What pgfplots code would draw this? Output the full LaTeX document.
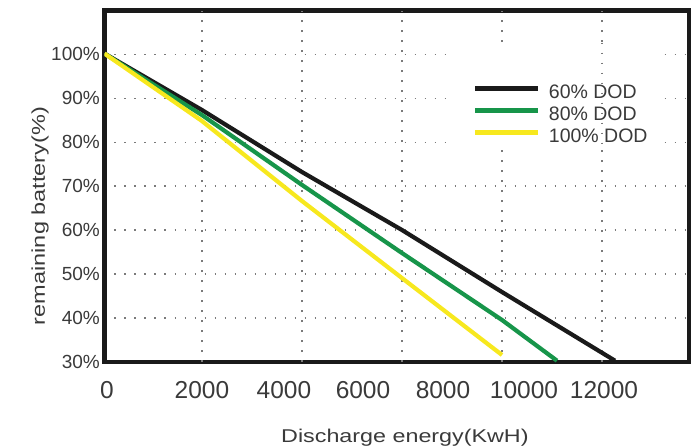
\documentclass[border=0pt]{standalone}
\usepackage{pgfplots}
\pgfplotsset{compat=1.18}
\usepackage{fontspec}
\setmainfont{Liberation Sans}
\definecolor{txt}{HTML}{3A3A3A}
\definecolor{cgreen}{HTML}{17954A}
\definecolor{cyellow}{HTML}{F7E81E}
\definecolor{cblack}{HTML}{1A1A1A}
\definecolor{gridc}{HTML}{7A7A7A}
\begin{document}
\begin{tikzpicture}
\begin{axis}[
  at={(0pt,0pt)}, anchor=south west,
  scale only axis, width=584.5pt, height=351.5pt,
  xmin=50, xmax=11740, ymin=30, ymax=110,
  scaled x ticks=false, scaled y ticks=false,
  axis line style={line width=4.5pt, cblack},
  major tick length=0pt,
  /pgf/number format/assume math mode=true,
  xtick={100,2000,3640,5220,6820,8440,10040},
  xticklabels={0,2000,4000,6000,8000,10000,12000},
  xticklabel style={font=\fontsize{24.5}{26}\selectfont, text=txt, anchor=base, inner sep=0pt, yshift=-36pt},
  xmajorgrids=false,
  extra x ticks={2000,4000,6000,8000,10000},
  extra x tick labels={},
  extra x tick style={xmajorgrids=true},
  ytick={30,40,50,60,70,80,90,100},
  yticklabels={30\%,40\%,50\%,60\%,70\%,80\%,90\%,100\%},
  yticklabel style={font=\fontsize{19}{20}\selectfont, text=txt, anchor=east, inner sep=0pt, xshift=-4.5pt},
  ymajorgrids=true,
  grid style={gridc, line width=1.6pt, dash pattern=on 1.6pt off 8.4pt},
  xlabel={Discharge energy(KwH)},
  xlabel style={at={(axis description cs:0.514,-0.2276)}, anchor=base, font=\fontsize{18.5}{20}\selectfont, text=txt, inner sep=0pt, xscale=1.26},
  ylabel={remaining battery(\%)},
  ylabel style={at={(axis description cs:-0.1018,0.4154)}, anchor=base, font=\fontsize{18.5}{20}\selectfont, text=txt, inner sep=0pt, xscale=1.27},
  legend style={at={(rel axis cs:0.630,0.788)}, anchor=north west, draw=none, fill=none, inner sep=0pt,
    row sep=5pt, column sep=8pt, font=\fontsize{19.5}{20}\selectfont, text=txt,
    nodes={inner sep=0pt, text height=13pt, text depth=4pt}},
  legend cell align=left,
  legend image code/.code={\draw[#1, line width=5pt] (0pt,5pt) -- (63pt,5pt);},
]
\fill[white] (axis cs:7000,79) rectangle (axis cs:11120,102.7);
\draw[gridc, line width=1.6pt, dash pattern=on 1.6pt off 8.4pt] (axis cs:10000,102.7) -- (axis cs:10000,79);
\addplot[cblack, line width=4.2pt] coordinates {(50,100.2) (2000,87.35) (4000,73.24) (6000,60.04) (8000,45.93) (10260,30.3)};
\addlegendentry{60\% DOD}
\addplot[cgreen, line width=4.2pt] coordinates {(50,100.2) (2000,86.2) (4000,70.3) (6000,54.8) (8000,39.56) (9100,30.3)};
\addlegendentry{80\% DOD}
\addplot[cyellow, line width=4.2pt] coordinates {(50,100.2) (2000,84.85) (4000,66.64) (6000,49.1) (8000,31.6)};
\addlegendentry{100\% DOD}
\end{axis}
\pgfresetboundingbox
\path[use as bounding box] (-104.5pt,-83pt) rectangle (590.5pt,362pt);
\end{tikzpicture}
\end{document}
